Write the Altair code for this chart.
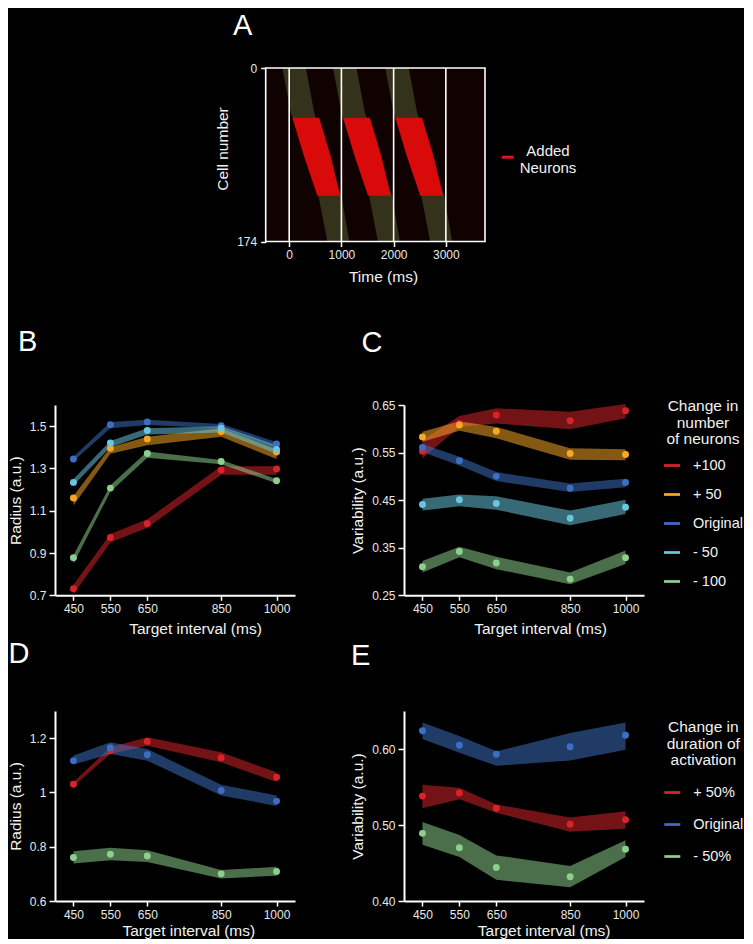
import altair as alt
import pandas as pd

FONT = "Liberation Sans"

# ---------------- shared x values ----------------
intervals = [450, 550, 650, 850, 1000]

# ---------------- B / C : change in number of neurons ----------------
neuron_series = ["+100", "+ 50", "Original", "- 50", "- 100"]
neuron_colors = ["#da2329", "#f7a823", "#3c6fc1", "#69c6de", "#8dcf8d"]

# Radius (B)
b_mean_p100 = [0.731, 0.973, 1.038, 1.292, 1.297]
b_mean_p50 = [1.160, 1.395, 1.439, 1.475, 1.378]
b_mean_orig = [1.345, 1.507, 1.520, 1.502, 1.416]
b_mean_m50 = [1.234, 1.420, 1.479, 1.490, 1.390]
b_mean_m100 = [0.878, 1.207, 1.371, 1.333, 1.242]

b_lo_p100 = [0.705, 0.950, 1.020, 1.270, 1.270]
b_hi_p100 = [0.750, 0.990, 1.060, 1.310, 1.310]
b_lo_p50 = [1.125, 1.370, 1.410, 1.450, 1.345]
b_hi_p50 = [1.170, 1.400, 1.450, 1.490, 1.390]
b_lo_orig = [1.335, 1.490, 1.505, 1.490, 1.400]
b_hi_orig = [1.355, 1.520, 1.530, 1.510, 1.425]
b_lo_m50 = [1.220, 1.400, 1.460, 1.470, 1.370]
b_hi_m50 = [1.250, 1.430, 1.490, 1.500, 1.410]
b_lo_m100 = [0.850, 1.190, 1.350, 1.320, 1.230]
b_hi_m100 = [0.890, 1.220, 1.380, 1.340, 1.250]

# Variability (C)
c_mean_p100 = [0.553, 0.611, 0.629, 0.617, 0.638]
c_mean_p50 = [0.583, 0.608, 0.595, 0.548, 0.546]
c_mean_orig = [0.561, 0.533, 0.500, 0.475, 0.487]
c_mean_m50 = [0.441, 0.451, 0.443, 0.412, 0.435]
c_mean_m100 = [0.310, 0.342, 0.318, 0.284, 0.329]

c_lo_p100 = [0.538, 0.604, 0.611, 0.599, 0.622]
c_hi_p100 = [0.576, 0.627, 0.643, 0.636, 0.652]
c_lo_p50 = [0.573, 0.596, 0.580, 0.535, 0.534]
c_hi_p50 = [0.594, 0.616, 0.604, 0.559, 0.557]
c_lo_orig = [0.551, 0.523, 0.490, 0.467, 0.477]
c_hi_orig = [0.568, 0.541, 0.509, 0.485, 0.495]
c_lo_m50 = [0.428, 0.437, 0.430, 0.397, 0.421]
c_hi_m50 = [0.453, 0.462, 0.458, 0.428, 0.451]
c_lo_m100 = [0.298, 0.330, 0.305, 0.273, 0.316]
c_hi_m100 = [0.322, 0.352, 0.331, 0.298, 0.344]

# ---------------- D / E : change in duration of activation ----------------
duration_series = ["+ 50%", "Original", "- 50%"]
duration_colors = ["#da2329", "#3c6fc1", "#8dcf8d"]

d_mean_p50 = [1.030, 1.154, 1.188, 1.128, 1.056]
d_mean_orig = [1.117, 1.165, 1.139, 1.007, 0.968]
d_mean_m50 = [0.760, 0.772, 0.766, 0.700, 0.709]
d_lo_p50 = [1.023, 1.142, 1.172, 1.111, 1.038]
d_hi_p50 = [1.038, 1.166, 1.203, 1.148, 1.074]
d_lo_orig = [1.103, 1.142, 1.117, 0.989, 0.950]
d_hi_orig = [1.136, 1.185, 1.160, 1.028, 0.989]
d_lo_m50 = [0.738, 0.750, 0.744, 0.683, 0.693]
d_hi_m50 = [0.783, 0.796, 0.787, 0.714, 0.726]

e_mean_p50 = [0.538, 0.542, 0.522, 0.501, 0.507]
e_mean_orig = [0.624, 0.605, 0.593, 0.603, 0.618]
e_mean_m50 = [0.489, 0.470, 0.444, 0.432, 0.468]
e_lo_p50 = [0.522, 0.534, 0.516, 0.491, 0.495]
e_hi_p50 = [0.553, 0.549, 0.527, 0.510, 0.518]
e_lo_orig = [0.613, 0.595, 0.578, 0.585, 0.599]
e_hi_orig = [0.635, 0.617, 0.597, 0.621, 0.635]
e_lo_m50 = [0.474, 0.458, 0.428, 0.418, 0.458]
e_hi_m50 = [0.504, 0.487, 0.460, 0.446, 0.480]

# ---------------- A : raster (band outlines per cycle) ----------------
time_domain = [-450, 3750]
cell_domain = [0, 174]
cycle_offsets = [0, 970, 1970]
orig_rows = [0, 45, 128, 174]
orig_start = [-130, 30, 560, 730]
orig_end = [320, 480, 1000, 1150]
added_rows = [50, 89, 128]
added_start = [63, 287, 541]
added_end = [574, 797, 975]
cycle_lines = [0, 1000, 2000, 3000]


def series_frame(names, means, lows, highs):
    rows = []
    for s, m, lo, hi in zip(names, means, lows, highs):
        for x, a, b, c in zip(intervals, m, lo, hi):
            rows.append({"interval": x, "series": s, "mean": a, "lo": b, "hi": c})
    return pd.DataFrame(rows)


def band_frame(rows_, starts, ends):
    out = []
    for k, off in enumerate(cycle_offsets):
        for r, s, e in zip(rows_, starts, ends):
            out.append({"cycle": k, "cell": r, "start": s + off, "end": e + off})
    return pd.DataFrame(out)


df_b = series_frame(neuron_series,
                    [b_mean_p100, b_mean_p50, b_mean_orig, b_mean_m50, b_mean_m100],
                    [b_lo_p100, b_lo_p50, b_lo_orig, b_lo_m50, b_lo_m100],
                    [b_hi_p100, b_hi_p50, b_hi_orig, b_hi_m50, b_hi_m100])
df_c = series_frame(neuron_series,
                    [c_mean_p100, c_mean_p50, c_mean_orig, c_mean_m50, c_mean_m100],
                    [c_lo_p100, c_lo_p50, c_lo_orig, c_lo_m50, c_lo_m100],
                    [c_hi_p100, c_hi_p50, c_hi_orig, c_hi_m50, c_hi_m100])
df_d = series_frame(duration_series,
                    [d_mean_p50, d_mean_orig, d_mean_m50],
                    [d_lo_p50, d_lo_orig, d_lo_m50],
                    [d_hi_p50, d_hi_orig, d_hi_m50])
df_e = series_frame(duration_series,
                    [e_mean_p50, e_mean_orig, e_mean_m50],
                    [e_lo_p50, e_lo_orig, e_lo_m50],
                    [e_hi_p50, e_hi_orig, e_hi_m50])

LEG_SYMBOL = "M-1,-0.17L1,-0.17L1,0.17L-1,0.17Z"
TEXT_COL = "#f2f2f2"


def letter_layer(letter, dx, dy):
    return alt.Chart(pd.DataFrame({"t": [letter]})).mark_text(
        font=FONT, fontSize=29, color="white", align="left", baseline="alphabetic"
    ).encode(text="t:N", x=alt.value(dx), y=alt.value(dy))


def make_legend(title, lx, ly, row_pad, title_pad):
    return alt.Legend(
        title=title, orient="none", legendX=lx, legendY=ly,
        titleFont=FONT, titleFontSize=15.5, titleFontWeight="normal", titleColor=TEXT_COL,
        titleLineHeight=16.5, titleAlign="center", titleAnchor="middle", titlePadding=title_pad,
        labelFont=FONT, labelFontSize=14.5, labelColor=TEXT_COL, labelOffset=13,
        symbolType=LEG_SYMBOL, symbolSize=256, symbolOpacity=1, symbolStrokeWidth=0,
        rowPadding=row_pad, padding=0, offset=0,
    )


def panel(df, names, colors, y_title, y_domain, y_values, y_format, legend,
          letter, ldx, ldy, ytitle_x, xtitle_x, xtitle_y, w, h):
    x_axis = alt.Axis(values=intervals, format="d", title="Target interval (ms)",
                      titleX=xtitle_x, titleY=xtitle_y, titleBaseline="top", tickSize=5)
    y_axis = alt.Axis(values=y_values, format=y_format, title=y_title,
                      titleX=ytitle_x, titleY=h / 2, titleAngle=270,
                      titleBaseline="bottom", tickSize=6, labelPadding=3)
    xs = alt.Scale(domain=[400, 1050], nice=False, zero=False)
    ys = alt.Scale(domain=y_domain, nice=False, zero=False)
    color = alt.Color("series:N", scale=alt.Scale(domain=names, range=colors),
                      legend=legend, sort=names)
    band = alt.Chart(df).mark_area(opacity=0.53).encode(
        x=alt.X("interval:Q", scale=xs, axis=x_axis),
        y=alt.Y("lo:Q", scale=ys, axis=y_axis),
        y2="hi:Q",
        color=color,
    )
    pts = alt.Chart(df).mark_circle(size=48, opacity=1).encode(
        x=alt.X("interval:Q", scale=xs, axis=x_axis),
        y=alt.Y("mean:Q", scale=ys, axis=y_axis),
        color=color,
    )
    return alt.layer(band, pts, letter_layer(letter, ldx, ldy)).properties(width=w, height=h)


PW, PH2, PH3 = 240, 190.3, 190

chart_b = panel(df_b, neuron_series, neuron_colors, "Radius (a.u.)", [0.7, 1.6],
                [0.7, 0.9, 1.1, 1.3, 1.5], ".1f", None, "B", -37, -54,
                -31.9, 140, 26, PW, PH2)
chart_c = panel(df_c, neuron_series, neuron_colors, "Variability (a.u.)", [0.25, 0.65],
                [0.25, 0.35, 0.45, 0.55, 0.65], ".2f",
                make_legend(["Change in", "number", "of neurons"], 260, -6, 14, 10),
                "C", -42.5, -53.3, -38.5, 136, 26, PW, PH2)
chart_d = panel(df_d, duration_series, duration_colors, "Radius (a.u.)", [0.6, 1.3],
                [0.6, 0.8, 1.0, 1.2], ".2~f", None, "D", -46.5, -47.6,
                -31.9, 133.3, 22, PW, PH3)
chart_e = panel(df_e, duration_series, duration_colors, "Variability (a.u.)", [0.40, 0.65],
                [0.40, 0.50, 0.60], ".2f",
                make_legend(["Change in", "duration of", "activation"], 260.3, 9, 17, 16),
                "E", -53, -46, -38.5, 139.7, 22, PW, PH3)

# ---------------- panel A ----------------
# A lives in the first grid column; its scale range is shifted so the raster
# sits above the two lower columns as in the figure.
A_SHIFT = 210.7
A_PLOT_W = 219.3
AH = 173.5
time_scale = alt.Scale(domain=time_domain, range=[A_SHIFT, A_SHIFT + A_PLOT_W],
                       nice=False, zero=False)
cell_scale = alt.Scale(domain=cell_domain, reverse=True, nice=False, zero=False)
a_x_axis = alt.Axis(values=cycle_lines, format="d", title="Time (ms)", domain=False,
                    titleX=A_SHIFT + 117.3, titleY=27.5, titleBaseline="top", tickSize=5)
a_y_axis = alt.Axis(values=cell_domain, format="d", title="Cell number", domain=False,
                    offset=-A_SHIFT, titleX=-35.5, titleY=80.5, titleAngle=270,
                    titleBaseline="bottom", tickSize=5, labelPadding=4)

orig_df = band_frame(orig_rows, orig_start, orig_end)
added_df = band_frame(added_rows, added_start, added_end)
frame_df = pd.DataFrame({"t0": [time_domain[0]], "t1": [time_domain[1]],
                         "c0": [cell_domain[0]], "c1": [cell_domain[1]]})

frame_fill = alt.Chart(frame_df).mark_rect(fill="#110202", strokeWidth=0).encode(
    x=alt.X("t0:Q", scale=time_scale, axis=a_x_axis), x2="t1:Q",
    y=alt.Y("c0:Q", scale=cell_scale, axis=a_y_axis), y2="c1:Q")
orig_band = alt.Chart(orig_df).mark_area(orient="horizontal", color="#34321a",
                                         opacity=1).encode(
    y=alt.Y("cell:Q", scale=cell_scale, axis=a_y_axis),
    x=alt.X("start:Q", scale=time_scale, axis=a_x_axis),
    x2="end:Q",
    detail="cycle:N",
)
added_band = alt.Chart(added_df).mark_area(orient="horizontal", color="#d80a0a",
                                           opacity=1).encode(
    y=alt.Y("cell:Q", scale=cell_scale, axis=a_y_axis),
    x=alt.X("start:Q", scale=time_scale, axis=a_x_axis),
    x2="end:Q",
    detail="cycle:N",
)
cycle_rules = alt.Chart(pd.DataFrame({"start": cycle_lines})).mark_rule(
    color="white", strokeWidth=1.6).encode(
    x=alt.X("start:Q", scale=time_scale, axis=a_x_axis))
frame_line = alt.Chart(frame_df).mark_rect(fill="transparent", stroke="white",
                                           strokeWidth=1.6).encode(
    x=alt.X("t0:Q", scale=time_scale, axis=a_x_axis), x2="t1:Q",
    y=alt.Y("c0:Q", scale=cell_scale, axis=a_y_axis), y2="c1:Q")

a_legend_dash = alt.Chart(pd.DataFrame({"k": [0]})).mark_rule(
    color="#e0141e", strokeWidth=3).encode(
    x=alt.value(A_SHIFT + 236), x2=alt.value(A_SHIFT + 248),
    y=alt.value(89.2), y2=alt.value(89.2))
a_legend_text = alt.Chart(pd.DataFrame({"t": ["Added\nNeurons"]})).mark_text(
    font=FONT, fontSize=15, color=TEXT_COL, align="center", baseline="top",
    lineBreak="\n", lineHeight=16.7).encode(
    text="t:N", x=alt.value(A_SHIFT + 282.3), y=alt.value(76))

chart_a = alt.layer(
    frame_fill, orig_band, added_band, cycle_rules, frame_line,
    a_legend_dash, a_legend_text,
    letter_layer("A", A_SHIFT - 32.7, -33.3),
).properties(width=PW, height=AH)

spacer = alt.Chart(pd.DataFrame({"s": [0]})).mark_point(opacity=0).encode(
    x=alt.X("s:Q", axis=None), y=alt.Y("s:Q", axis=None)
).properties(width=PW, height=221.5)

chart = alt.concat(
    chart_a, spacer, chart_b, chart_c, chart_d, chart_e,
    columns=2,
    spacing={"row": 115, "column": 109},
    align="each",
    bounds="flush",
).resolve_scale(
    x="independent", y="independent", color="independent"
).configure(
    background="black",
    padding={"left": 0, "top": 3, "right": 0, "bottom": 0},
    font=FONT,
).configure_view(
    strokeWidth=0,
).configure_axis(
    domainColor="white", domainWidth=2, tickColor="white", tickWidth=1.5,
    labelColor="#e8e8e8", labelFont=FONT, labelFontSize=12, labelPadding=3,
    titleColor=TEXT_COL, titleFont=FONT, titleFontSize=15.5, titleFontWeight="normal",
    grid=False,
)

chart.save("out.html", embed_options={"renderer": "svg", "actions": False})
